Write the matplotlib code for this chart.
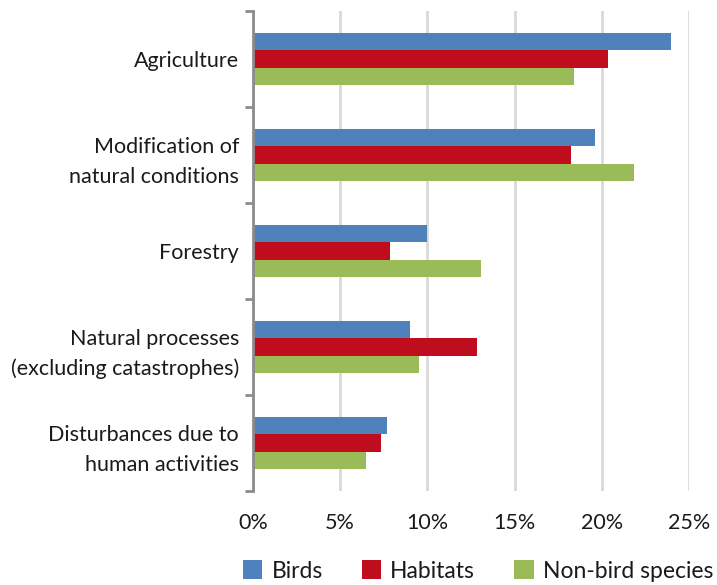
import matplotlib
matplotlib.use("Agg")
import matplotlib.pyplot as plt
import numpy as np
from matplotlib.patches import Patch

categories = ["Agriculture", "Modification of\nnatural conditions", "Forestry",
              "Natural processes\n(excluding catastrophes)", "Disturbances due to\nhuman activities"]
series_names = ["Birds", "Habitats", "Non-bird species"]
birds = [23.95, 19.6, 10.0, 9.0, 7.7]
habitats = [20.35, 18.25, 7.85, 12.85, 7.35]
nonbird = [18.4, 21.85, 13.05, 9.5, 6.5]
xticks = [0, 5, 10, 15, 20, 25]
xticklabels = ["0%", "5%", "10%", "15%", "20%", "25%"]
colors = ["#4f81bd", "#c00d1e", "#9bbb59"]

plt.rcParams['font.family'] = ['Lato', 'DejaVu Sans']

fig = plt.figure(figsize=(7.17, 5.85), dpi=100)
ax = fig.add_axes([253/717, 1-491/585, (689-253)/717, (491-11)/585])

y = np.arange(len(categories))
h = 0.183
for i, (vals, c) in enumerate(zip([birds, habitats, nonbird], colors)):
    ax.barh(y + (i-1)*h, vals, height=h, color=c, zorder=3)

ax.set_xlim(0, 25)
ax.set_ylim(len(categories)-0.5, -0.5)
ax.set_xticks(xticks)
ax.set_xticklabels(xticklabels, fontsize=15.5, color="#1a1a1a")
ax.tick_params(axis='x', length=0, pad=16)
ax.xaxis.grid(True, color="#d9d9d9", linewidth=2, zorder=0)

ax.set_yticks(y)
ax.set_yticklabels(categories, fontsize=15.5, color="#1a1a1a", linespacing=1.6)
ax.tick_params(axis='y', which='major', length=0, pad=10)
ax.set_yticks(np.arange(-0.5, len(categories)), minor=True)
ax.tick_params(axis='y', which='minor', length=6, width=2, color="#8c8c8c")

for s in ["top", "right", "bottom"]:
    ax.spines[s].set_visible(False)
ax.spines["left"].set_color("#8c8c8c")
ax.spines["left"].set_linewidth(2)
ax.spines["left"].set_zorder(4)

handles = [Patch(facecolor=c, edgecolor='none') for c in colors]
fig.legend(handles, series_names, loc='center', bbox_to_anchor=(478/717, 1-571/585),
           ncol=3, frameon=False, fontsize=16.5, handlelength=0.85, handleheight=0.85,
           handletextpad=0.4, columnspacing=1.7, labelcolor="#1a1a1a")

fig.savefig("out.png", dpi=100)
